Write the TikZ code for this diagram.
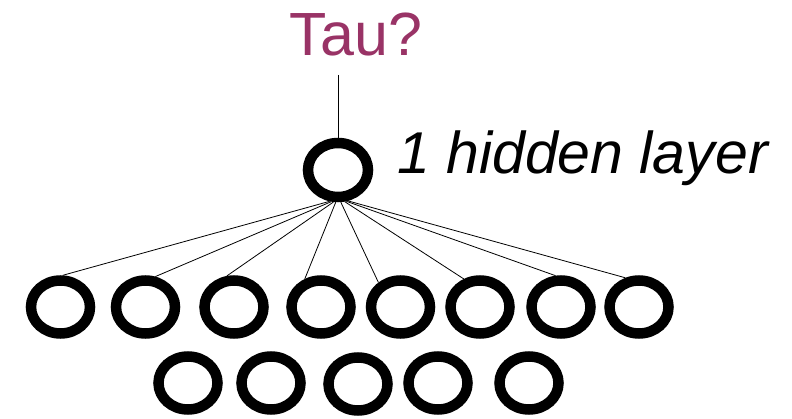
\documentclass[tikz,border=0pt]{standalone}
\usepackage{fontspec}
\setmainfont{Liberation Sans}
\usepackage{tikz}
\usetikzlibrary{shapes.geometric}
\definecolor{taupurple}{HTML}{993366}
\tikzstyle{neuron}=[ellipse,draw,line width=10.5pt,inner sep=0pt,minimum width=59pt,minimum height=53pt]
\tikzstyle{link}=[draw,line width=0.8pt]
\begin{document}
\begin{tikzpicture}[x=1pt,y=-1pt]
  \useasboundingbox (0,0) rectangle (792,419);
  % output
  \node[anchor=base,text=taupurple,font=\fontsize{61}{70}\selectfont,inner sep=0pt] (tau) at (356,56) {Tau?};
  \coordinate (tautail) at (338,75);
  % hidden layer
  \node[neuron,minimum width=60pt,minimum height=54pt] (hid) at (338,170) {};
  \node[anchor=base west,font=\fontsize{59}{68}\selectfont\itshape,inner sep=0pt] (hidlabel) at (397,174) {1 hidden layer};
  % inputs, first row
  \node[neuron] (in1) at (60.5,307) {};
  \node[neuron] (in2) at (145.5,307) {};
  \node[neuron] (in3) at (234,307) {};
  \node[neuron] (in4) at (321,307) {};
  \node[neuron] (in5) at (400.5,307) {};
  \node[neuron] (in6) at (480,307) {};
  \node[neuron] (in7) at (561,307) {};
  \node[neuron] (in8) at (639,307) {};
  % inputs, second row
  \node[neuron] (in9) at (188,383) {};
  \node[neuron] (in10) at (271,383) {};
  \node[neuron] (in11) at (358,384) {};
  \node[neuron] (in12) at (438,383) {};
  \node[neuron] (in13) at (529,383) {};
  % links
  \draw[link] (tautail) -- (hid.north);
  \draw[link] (hid.255) -- (in1.86);
  \draw[link] (hid.258) -- (in2.72);
  \draw[link] (hid.262) -- (in3.103);
  \draw[link] (hid.266) -- (in4.120);
  \draw[link] (hid.275) -- (in5.132);
  \draw[link] (hid.282) -- (in6.120);
  \draw[link] (hid.285) -- (in7.100);
  \draw[link] (hid.288) -- (in8.115);
\end{tikzpicture}
\end{document}
